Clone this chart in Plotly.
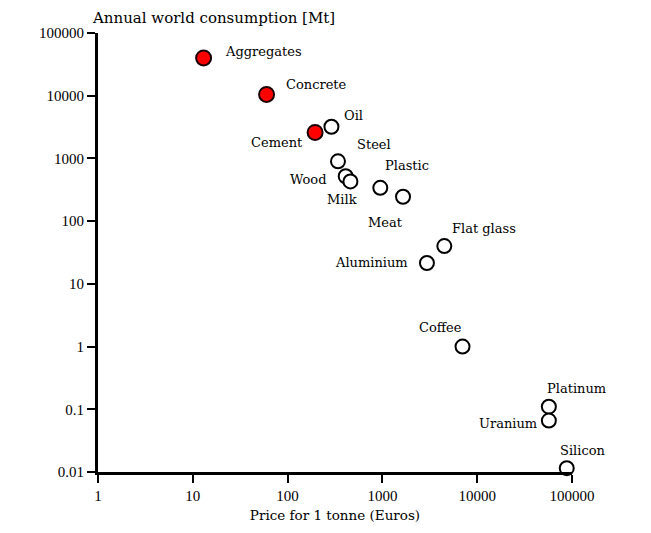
import math
import plotly.graph_objects as go

# Materials: price per tonne (Euros) vs annual world consumption (Mt)
bulk_names = ["Aggregates", "Concrete", "Cement"]
bulk_price = [13, 60, 195]
bulk_consumption = [40000, 10500, 2600]

other_names = ["Oil", "Steel", "Wood", "Milk", "Plastic", "Meat", "Flat glass",
               "Aluminium", "Coffee", "Platinum", "Uranium", "Silicon"]
other_price = [290, 340, 410, 460, 950, 1650, 4500, 2950, 7000, 57000, 57000, 88000]
other_consumption = [3200, 900, 520, 430, 340, 245, 40, 21.5, 1.0, 0.11, 0.066, 0.0115]

x_tick_vals = [1, 10, 100, 1000, 10000, 100000]
x_tick_text = ["1", "10", "100", "1000", "10000", "100000"]
y_tick_vals = [0.01, 0.1, 1, 10, 100, 1000, 10000, 100000]
y_tick_text = ["0.01", "0.1", "1", "10", "100", "1000", "10000", "100000"]

# label placement around each marker: (xanchor, xshift, yshift)
label_place = {
    "Aggregates": ("left", 19, 6),
    "Concrete": ("left", 17, 10),
    "Cement": ("right", -10, -10),
    "Oil": ("left", 11, 11),
    "Steel": ("left", 17, 17),
    "Wood": ("right", -18, -3),
    "Milk": ("center", -8, -18),
    "Plastic": ("left", 3, 22),
    "Meat": ("center", -18, -26),
    "Flat glass": ("left", 6, 18),
    "Aluminium": ("right", -17, 1),
    "Coffee": ("center", -22, 19),
    "Platinum": ("left", -4, 18),
    "Uranium": ("right", -10, -3),
    "Silicon": ("left", -9, 18),
}

FONT = "DejaVu Serif, serif"
TICK_FONT = "Liberation Serif, Times New Roman, serif"

fig = go.Figure()
fig.add_trace(go.Scatter(
    x=other_price, y=other_consumption, mode="markers",
    marker=dict(size=14, color="white", line=dict(color="black", width=2)),
    hoverinfo="skip", showlegend=False, cliponaxis=False,
))
fig.add_trace(go.Scatter(
    x=bulk_price, y=bulk_consumption, mode="markers",
    marker=dict(size=15, color="#ff0000", line=dict(color="#1a0000", width=2)),
    hoverinfo="skip", showlegend=False, cliponaxis=False,
))

# annotations on log axes take log10 coordinates
for names, xs, ys in ((bulk_names, bulk_price, bulk_consumption),
                      (other_names, other_price, other_consumption)):
    for n, xv, yv in zip(names, xs, ys):
        anchor, dx, dy = label_place[n]
        fig.add_annotation(
            x=math.log10(xv), y=math.log10(yv), xref="x", yref="y", text=n,
            showarrow=False, xanchor=anchor, yanchor="middle", xshift=dx, yshift=dy,
            font=dict(family=FONT, size=13, color="black"),
        )

fig.update_layout(
    width=651, height=533,
    margin=dict(l=98, r=79, t=33, b=56),
    paper_bgcolor="white", plot_bgcolor="white",
    font=dict(family=FONT, size=13, color="black"),
    title=dict(text="Annual world consumption [Mt]", xref="container", x=93 / 651,
               xanchor="left", yref="container", y=1 - 18 / 533, yanchor="middle",
               font=dict(family=FONT, size=15, color="black")),
    xaxis=dict(type="log", range=[0, 5], tickvals=x_tick_vals, ticktext=x_tick_text,
               showgrid=False, zeroline=False, showline=True, linecolor="black",
               linewidth=3, ticks="outside", ticklen=8, tickwidth=2, tickcolor="black",
               tickfont=dict(family=TICK_FONT, size=15),
               title=dict(text="Price for 1 tonne (Euros)", standoff=8,
                          font=dict(family=FONT, size=13.5))),
    yaxis=dict(type="log", range=[-2, 5], tickvals=y_tick_vals, ticktext=y_tick_text,
               showgrid=False, zeroline=False, showline=True, linecolor="black",
               linewidth=3, ticks="outside", ticklen=8, tickwidth=2, tickcolor="black",
               tickfont=dict(family=TICK_FONT, size=15)),
)

fig.write_html("out.html")
